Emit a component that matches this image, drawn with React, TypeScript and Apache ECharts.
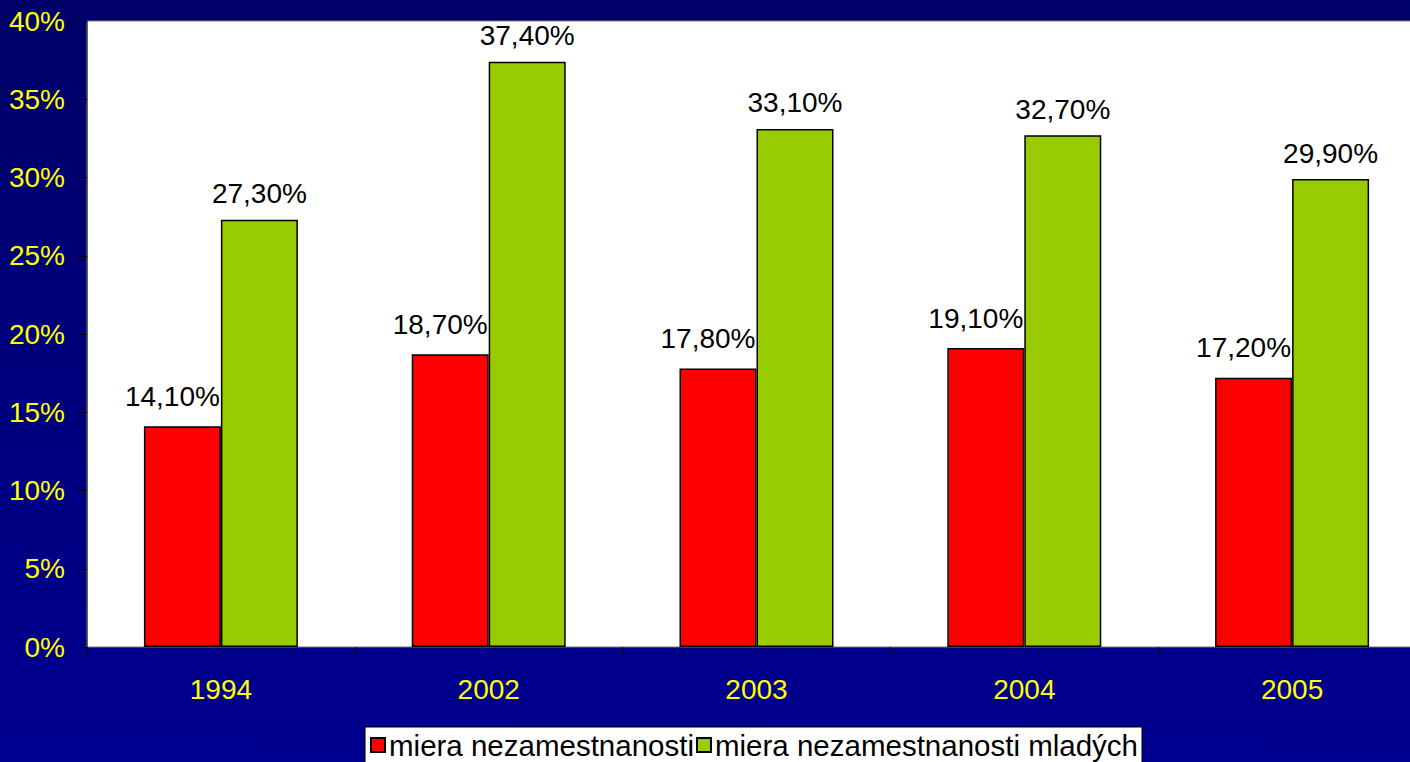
import React, { useEffect, useRef } from "react";
import * as echarts from "echarts";

const years = ["1994", "2002", "2003", "2004", "2005"];
const rateAll = [14.1, 18.7, 17.8, 19.1, 17.2];
const rateYouth = [27.3, 37.4, 33.1, 32.7, 29.9];
const seriesNames = ["miera nezamestnanosti", "miera nezamestnanosti mladých"];
const yTicks = { min: 0, max: 40, interval: 5 };

const FONT = "Liberation Sans, Arial, sans-serif";

const fmt = (v: number) => v.toFixed(2).replace(".", ",") + "%";

export default function App() {
  const ref = useRef<HTMLDivElement>(null);
  useEffect(() => {
    if (!ref.current) return;
    const chart = echarts.init(ref.current, undefined, { renderer: "svg" });
    chart.setOption({
      animation: false,
      backgroundColor: {
        type: "linear",
        x: 0,
        y: 0,
        x2: 0,
        y2: 1,
        colorStops: [
          { offset: 0, color: "#000068" },
          { offset: 0.5, color: "#00007c" },
          { offset: 1, color: "#000090" },
        ],
      },
      grid: {
        left: 87,
        top: 21,
        right: 1,
        bottom: 115,
        show: true,
        backgroundColor: "#ffffff",
        borderColor: "#808080",
        borderWidth: 1,
      },
      legend: {
        left: 365,
        top: 727,
        data: seriesNames,
        backgroundColor: "#ffffff",
        borderColor: "#000000",
        borderWidth: 1,
        borderRadius: 0,
        padding: [3, 4, 8, 5],
        itemGap: 2,
        itemWidth: 14,
        itemHeight: 14,
        icon: "rect",
        textStyle: { color: "#000000", fontSize: 29.5, fontFamily: FONT, padding: [0, 0, 0, -1] },
      },
      xAxis: {
        type: "category",
        data: years,
        axisLine: { lineStyle: { color: "#404040", width: 1 } },
        axisTick: { show: true, length: 7, lineStyle: { color: "#000000" } },
        axisLabel: { color: "#ffff00", fontSize: 28, fontFamily: FONT, margin: 28 },
      },
      yAxis: {
        type: "value",
        min: yTicks.min,
        max: yTicks.max,
        interval: yTicks.interval,
        splitLine: { show: false },
        axisLine: { show: true, lineStyle: { color: "#404040", width: 1.5 } },
        axisTick: { show: true, length: 9, lineStyle: { color: "#000000" } },
        axisLabel: {
          color: "#ffff00",
          fontSize: 28,
          fontFamily: FONT,
          margin: 22,
          formatter: (v: number) => v + "%",
        },
      },
      series: [
        {
          name: seriesNames[0],
          type: "bar",
          data: rateAll,
          barCategoryGap: "42.5%",
          barGap: "0%",
          itemStyle: { color: "#ff0000", borderColor: "#000000", borderWidth: 1.5 },
          label: {
            show: true,
            position: "top",
            offset: [-10, 0],
            distance: 16,
            color: "#000000",
            fontSize: 28,
            fontFamily: FONT,
            formatter: (p: any) => fmt(p.value),
          },
        },
        {
          name: seriesNames[1],
          type: "bar",
          data: rateYouth,
          barCategoryGap: "42.5%",
          barGap: "0%",
          itemStyle: { color: "#99cc00", borderColor: "#000000", borderWidth: 1.5 },
          label: {
            show: true,
            position: "top",
            distance: 12,
            color: "#000000",
            fontSize: 28,
            fontFamily: FONT,
            formatter: (p: any) => fmt(p.value),
          },
        },
      ],
    });
    return () => chart.dispose();
  }, []);
  return (
    <div
      style={{
        position: "absolute",
        left: 0,
        top: 0,
        width: 1410,
        height: 762,
        overflow: "hidden",
      }}
    >
      <div ref={ref} style={{ width: 1427, height: 762 }} />
    </div>
  );
}
